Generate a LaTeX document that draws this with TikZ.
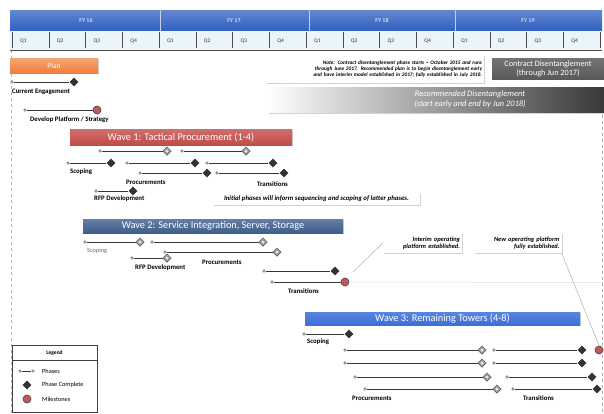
\documentclass[tikz,border=0pt]{standalone}
\usepackage{fontspec}
\setmainfont{Carlito}
\usetikzlibrary{shapes.geometric,shadows}
\definecolor{hdrblue}{HTML}{2F5FC0}
\definecolor{qfill}{HTML}{E9F5FA}
\definecolor{planorange}{HTML}{F07E3A}
\definecolor{wonered}{HTML}{C24B47}
\definecolor{wtwoblue}{HTML}{3F5E8C}
\definecolor{wthreeblue}{HTML}{3B6FD9}
\definecolor{msred}{HTML}{C8565A}
\definecolor{cdgray}{HTML}{5A5A5A}
\newcommand{\phasebar}[5]{%
  \node[startdot] (#1s) at (#2,#4) {};
  \node[#5] (#1e) at (#3,#4) {};
  \draw[phaseline] (#1s) -- (#1e);}
\begin{document}
\begin{tikzpicture}[x=1pt,y=-1pt,
  startdot/.style={circle,draw=black!70,fill=gray!25,minimum size=2.8,inner sep=0,line width=0.4},
  done/.style={diamond,fill=black!80,minimum size=9,inner sep=0},
  gate/.style={diamond,fill=gray!75,draw=black!70,line width=0.5,minimum size=8.5,inner sep=0,
     path picture={\fill[white!85!gray] (path picture bounding box.center) circle (1.5pt);}},
  milestone/.style={circle,fill=msred,draw=black!70,line width=0.7,minimum size=8,inner sep=0},
  phaseline/.style={draw=black!78,line width=1},
  lbl/.style={anchor=west,inner sep=0,font=\fontsize{6.8}{7}\selectfont\bfseries},
  wavebox/.style={text=white,inner sep=0,font=\fontsize{10.3}{11}\selectfont,
     drop shadow={opacity=0.35,shadow xshift=1pt,shadow yshift=-1pt}},
  notebox/.style={fill=white,inner sep=2,align=right,font=\fontsize{5.3}{6.2}\selectfont\bfseries\itshape,
     drop shadow={opacity=0.35,shadow xshift=1.2pt,shadow yshift=-1.2pt}},
  leader/.style={draw=gray!60,line width=0.5},
  qlbl/.style={anchor=west,inner sep=0,font=\fontsize{5.5}{6}\selectfont,text=black!80},
  yrlbl/.style={inner sep=0,font=\fontsize{6}{7}\selectfont,text=white},
  leglbl/.style={anchor=west,inner sep=0,font=\fontsize{6.3}{7}\selectfont}]
\useasboundingbox (0,0) rectangle (604,413);
\fill[white] (0,0) rectangle (604,413);
% edges of the sheet
\coordinate (lt) at (11,50); \coordinate (lb) at (11,413);
\coordinate (rt) at (602,115); \coordinate (rb) at (602,413);
\draw[gray!60,dashed,line width=0.5] (lt) -- (lb);
\draw[gray!60,dashed,line width=0.5] (rt) -- (rb);
% header
\shade[top color=hdrblue!75!white,bottom color=hdrblue] (10,10) rectangle (602,31);
\fill[qfill] (10,31) rectangle (602,50);
\foreach \i in {0,...,16}{
  \pgfmathsetmacro\qx{12+36.75*\i}
  \draw[black!70,line width=0.5] (\qx,32) -- (\qx,48);
}
\foreach \i in {0,...,15}{
  \pgfmathsetmacro\qx{12+36.75*\i+8}
  \pgfmathtruncatemacro\qn{mod(\i,4)+1}
  \node[qlbl] (q\i) at (\qx,41) {Q\qn};
}
\foreach \x in {160,309,455}{ \draw[white!70!hdrblue,line width=0.6] (\x,10) -- (\x,31); }
\draw[black!70,line width=0.7] (10,50) -- (602,50);
\node[yrlbl] (fy16) at (86,20.5) {FY 16};
\node[yrlbl] (fy17) at (234,20.5) {FY 17};
\node[yrlbl] (fy18) at (382,20.5) {FY 18};
\node[yrlbl] (fy19) at (528,20.5) {FY 19};
% plan
\node[wavebox,font=\fontsize{7.5}{8}\selectfont,top color=planorange!70!white,bottom color=planorange,minimum width=88,minimum height=15] (plan) at (54,65.5) {Plan};
\phasebar{ce}{12}{74}{82}{done}
\node[lbl] (celbl) at (12,92) {Current Engagement};
\phasebar{dp}{25}{97}{110}{milestone}
\node[lbl] (dplbl) at (30,120) {Develop Platform / Strategy};
% note and disentanglement bars
\node[notebox,text width=214,minimum height=28] (note) at (375,69) {Note: Contract disentanglement phase starts \textasciitilde{} October 2015 and runs\\ through June 2017. Recommended plan is to begin disentanglement early\\ and have interim model established in 2017; fully established in July 2018.};
\node[top color=cdgray!85!white,bottom color=cdgray,text=white,align=center,minimum width=112,minimum height=21,inner sep=0,font=\fontsize{8.2}{9.2}\selectfont] (cd) at (548,68.5) {Contract Disentanglement\\ (through Jun 2017)};
\node[left color=white,right color=black!78,minimum width=336,minimum height=25,inner sep=0,
  drop shadow={opacity=0.35,shadow xshift=1pt,shadow yshift=-1.5pt}] (rd) at (436,99.5) {};
\node[text=white,align=center,inner sep=0,font=\fontsize{8.4}{9.6}\selectfont\itshape] (rdt) at (470,99.5) {Recommended Disentanglement\\ (start early and end by Jun 2018)};
% wave 1
\node[wavebox,top color=wonered!80!white,bottom color=wonered,minimum width=222,minimum height=16] (w1) at (181,137) {Wave 1: Tactical Procurement (1-4)};
\phasebar{wa1}{100}{167}{151}{gate}
\phasebar{wa2}{182}{246}{151}{gate}
\phasebar{wb1}{68}{111}{163}{done}
\phasebar{wb2}{127}{195}{163}{done}
\phasebar{wb3}{207}{273}{163}{done}
\phasebar{wc1}{140}{207}{173}{done}
\phasebar{wc2}{217}{284}{173}{done}
\phasebar{wd1}{96}{133}{191}{done}
\node[lbl] (w1scope) at (70,172) {Scoping};
\node[lbl] (w1proc) at (126,182) {Procurements};
\node[lbl] (w1tran) at (257,184) {Transitions};
\node[lbl] (w1rfp) at (94,199) {RFP Development};
\node[notebox,align=center,minimum width=207,minimum height=12,inner sep=1,font=\fontsize{6.8}{7}\selectfont\bfseries\itshape] (inote) at (316.5,199) {Initial phases will inform sequencing and scoping of latter phases.};
% wave 2
\node[wavebox,top color=wtwoblue!80!white,bottom color=wtwoblue,minimum width=260,minimum height=14] (w2) at (213,226) {Wave 2: Service Integration, Server, Storage};
\phasebar{xa1}{85}{140}{242}{gate}
\phasebar{xa2}{152}{263}{242}{gate}
\phasebar{xb1}{165}{277}{252}{gate}
\phasebar{xc1}{132}{167}{258}{gate}
\phasebar{xd1}{264}{335}{271}{done}
\phasebar{xe1}{272}{345}{282}{milestone}
\node[anchor=west,inner sep=0,font=\fontsize{6.3}{7}\selectfont,text=black!60] (w2scope) at (87,251) {Scoping};
\node[lbl] (w2rfp) at (135,268) {RFP Development};
\node[lbl] (w2proc) at (202,262) {Procurements};
\node[lbl] (w2tran) at (288,291) {Transitions};
\coordinate (g1) at (604,282.5);
\draw[gray!25,line width=0.5] (xe1e) -- (g1);
% callouts
\node[notebox,text width=75,minimum height=20,font=\fontsize{6.4}{7.4}\selectfont\bfseries\itshape] (c1) at (422.5,243) {Interim operating\\ platform established.};
\node[notebox,text width=84,minimum height=20,font=\fontsize{6.4}{7.4}\selectfont\bfseries\itshape] (c2) at (517.5,243) {New operating platform\\ fully established.};
\coordinate (l1) at (353,272);
\draw[leader] (c1.west) -- (l1);
% wave 3
\node[wavebox,top color=wthreeblue!85!white,bottom color=wthreeblue,minimum width=275,minimum height=13] (w3) at (442.5,318.5) {Wave 3: Remaining Towers (4-8)};
\phasebar{ya}{304}{349}{334}{done}
\phasebar{yb1}{345}{482}{350}{gate}
\phasebar{yb2}{494}{582}{350}{done}
\node[milestone] (w3ms) at (599,350) {};
\phasebar{yc1}{345}{482}{363}{gate}
\phasebar{yc2}{494}{582}{363}{done}
\phasebar{yd1}{355}{487}{377}{gate}
\phasebar{yd2}{507}{592}{377}{done}
\phasebar{ye1}{365}{497}{389}{gate}
\phasebar{ye2}{513}{597}{389}{done}
\node[lbl] (w3scope) at (307,342) {Scoping};
\node[lbl] (w3proc) at (352,398) {Procurements};
\node[lbl] (w3tran) at (523,398) {Transitions};
\draw[leader] (c2.south east) -- (w3ms.north);
% legend
\node[draw=black!75,line width=0.8,minimum width=85,minimum height=67,inner sep=0] (leg) at (54.5,378.5) {};
\node[inner sep=0,font=\fontsize{5.5}{6}\selectfont\bfseries] (legt) at (54.5,353) {Legend};
\coordinate (lg1) at (12,360); \coordinate (lg2) at (97,360);
\draw[black!75,line width=0.6] (lg1) -- (lg2);
\node[startdot] (lps) at (20,371) {};
\node[startdot] (lpe) at (33,371) {};
\draw[phaseline,line width=0.6] (lps) -- (lpe);
\node[leglbl] (lp) at (42,371) {Phases};
\node[done] (lpc) at (27,385) {};
\node[leglbl] (lpct) at (42,385) {Phase Complete};
\node[milestone] (lms) at (27,399) {};
\node[leglbl] (lmst) at (42,399) {Milestones};
\end{tikzpicture}
\end{document}
